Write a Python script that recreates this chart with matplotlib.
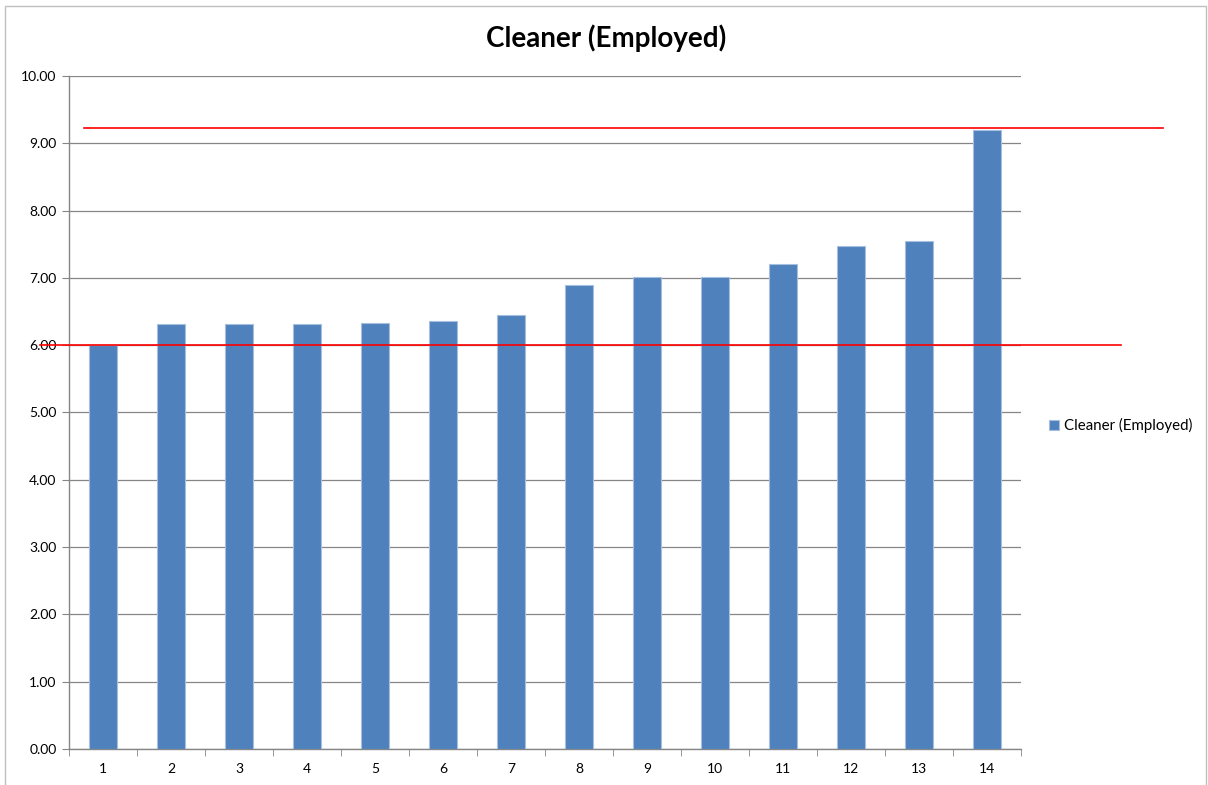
import matplotlib.pyplot as plt
import matplotlib.transforms as mtransforms
from matplotlib.patches import Rectangle

plt.rcdefaults()
plt.rcParams['font.family'] = ['Lato', 'DejaVu Sans']

categories = [str(i) for i in range(1, 15)]
values = [6.00, 6.31, 6.31, 6.31, 6.33, 6.36, 6.45, 6.89, 7.01, 7.01, 7.20, 7.48, 7.55, 9.20]
series_name = 'Cleaner (Employed)'
ref_lines = [9.22, 6.01]

bar_color = '#4F81BD'
grid_color = '#868686'

fig = plt.figure(figsize=(12.08, 7.85), dpi=100)
fig.patches.append(Rectangle((0.004, -0.01), 0.994, 1.002, transform=fig.transFigure,
                             fill=False, edgecolor='#BFBFBF', linewidth=1.0))
ax = fig.add_axes([0.0571, 0.0459, 0.7881, 0.8573])

x_pos = range(len(categories))
bars = ax.bar(x_pos, values, width=0.41, color=bar_color, edgecolor='#A7BFDE',
              linewidth=0.8, label=series_name, zorder=3)

ax.set_xlim(-0.5, len(categories) - 0.5)
ax.set_ylim(0, 10)
ax.set_yticks([i for i in range(11)])
ax.set_yticklabels(['%.2f' % i for i in range(11)], fontsize=10)
ax.set_xticks(list(x_pos))
ax.set_xticklabels(categories, fontsize=10)
ax.set_xticks([i - 0.5 for i in range(len(categories) + 1)], minor=True)
ax.tick_params(axis='x', which='major', length=0, pad=10)
ax.tick_params(axis='x', which='minor', length=5, color=grid_color, direction='out')
ax.tick_params(axis='y', length=5, color=grid_color, pad=4)

ax.yaxis.grid(True, color=grid_color, linewidth=0.9, zorder=0)
ax.set_axisbelow(True)
for side in ['top', 'right']:
    ax.spines[side].set_visible(False)
for side in ['left', 'bottom']:
    ax.spines[side].set_color(grid_color)
    ax.spines[side].set_linewidth(1.0)

# red reference lines drawn over the chart (extend past the plot area)
trans = mtransforms.blended_transform_factory(ax.transAxes, ax.transData)
ax.plot([0.0157, 1.149], [ref_lines[0]] * 2, color='red', linewidth=1.2,
        transform=trans, clip_on=False, zorder=5)
ax.plot([-0.030, 1.105], [ref_lines[1]] * 2, color='red', linewidth=1.2,
        transform=trans, clip_on=False, zorder=5)

fig.text(0.502, 0.951, series_name, ha='center', va='center', fontsize=20, fontweight='bold')

ax.legend(handles=[bars], labels=[series_name], loc='center left',
          bbox_to_anchor=(1.015, 0.48), frameon=False, fontsize=10.8,
          handlelength=0.7, handleheight=0.7, handletextpad=0.3)

fig.savefig('out.png', dpi=100)
